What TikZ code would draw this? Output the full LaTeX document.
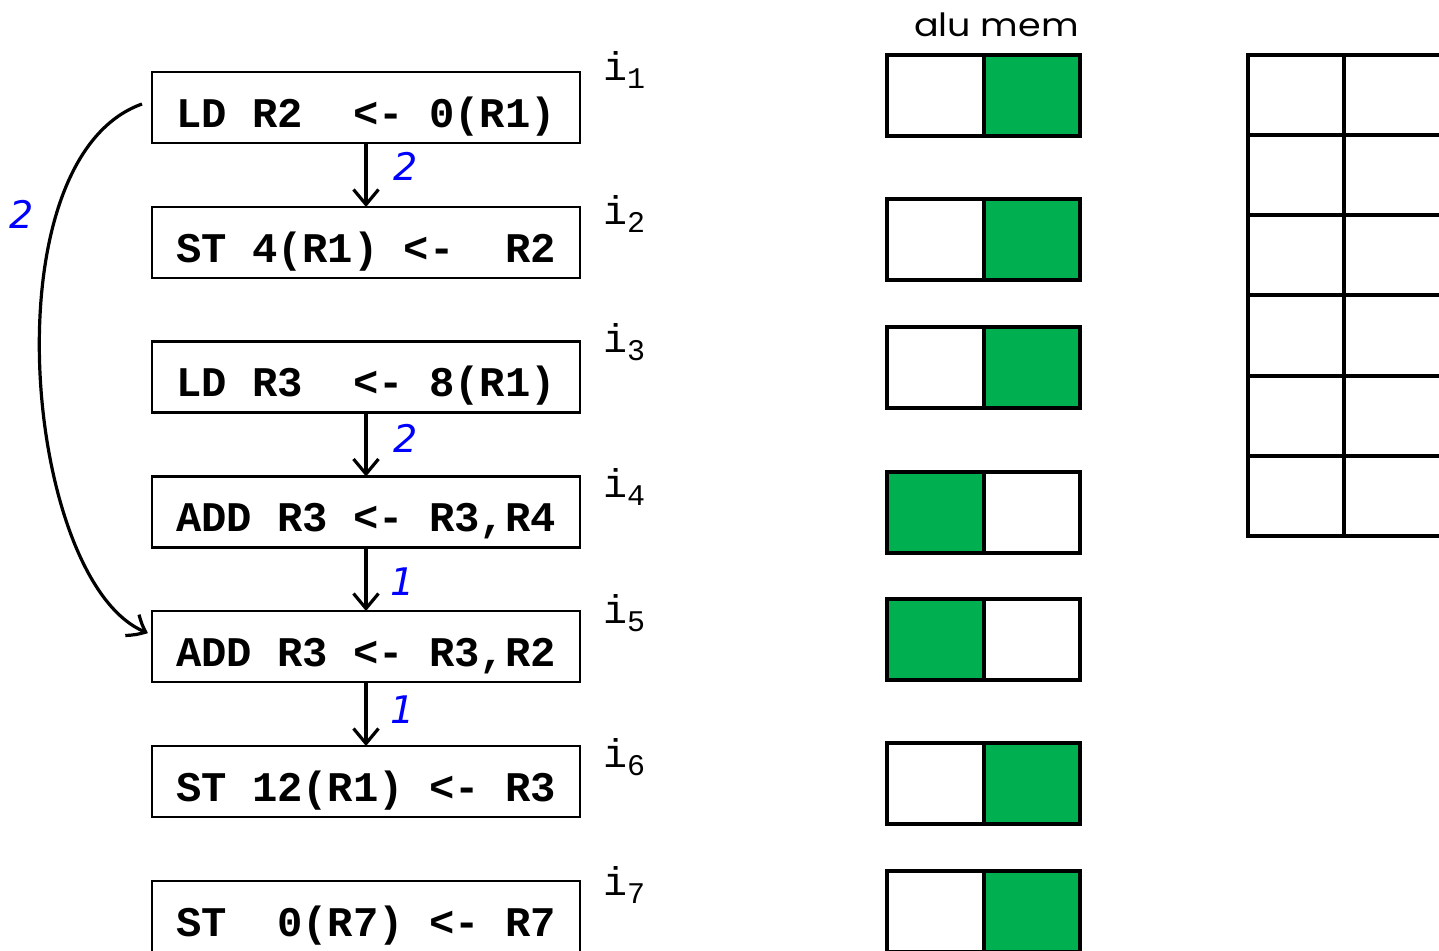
\documentclass[tikz,border=0pt]{standalone}
\usepackage{fontspec}
\setmainfont{Liberation Sans}
\newfontfamily\codefont{Liberation Mono}
\newfontfamily\gothfont{Poppins}
\newfontfamily\numfont{DejaVu Sans}
\usetikzlibrary{arrows.meta,bending,calc}
\definecolor{pptgreen}{RGB}{0,176,80}
\definecolor{numblue}{RGB}{0,0,255}
\begin{document}
\begin{tikzpicture}[x=1pt,y=-1pt,
  instr/.style={draw=black, line width=2.5pt, minimum width=428pt, minimum height=71pt,
    inner sep=0pt, outer sep=0pt, font=\codefont\bfseries\fontsize{42.2}{50}\selectfont,
    text height=41pt, text depth=2pt},
  ilabel/.style={anchor=base west, inner sep=0pt, font=\codefont\fontsize{40}{40}\selectfont},
  lat/.style={text=numblue, inner sep=0pt, font=\numfont\itshape\fontsize{38}{38}\selectfont},
  conn/.style={line width=3.2pt, -{Straight Barb[length=15pt, width=25pt, line width=3.2pt, bend]}},
  unitbox/.style={line width=4pt},
]
\useasboundingbox (0,0) rectangle (1439,950);

% instruction nodes
\node[instr] (a1) at (366,107.5) {LD~R2~~<-~0(R1)};
\node[instr] (a2) at (366,242.5) {ST~4(R1)~<-~~R2};
\node[instr] (a3) at (366,377)   {LD~R3~~<-~8(R1)};
\node[instr] (a4) at (366,512)   {ADD~R3~<-~R3,R4};
\node[instr] (a5) at (366,646.5) {ADD~R3~<-~R3,R2};
\node[instr] (a6) at (366,781.5) {ST~12(R1)~<-~R3};
\node[instr] (a7) at (366,916.5) {ST~~0(R7)~<-~R7};

% instruction labels
\newcommand{\isub}[1]{i\raisebox{-8pt}{\fontsize{30}{30}\selectfont #1}}
\node[ilabel] (l1) at (603,80)  {\isub{1}};
\node[ilabel] (l2) at (603,224) {\isub{2}};
\node[ilabel] (l3) at (603,352) {\isub{3}};
\node[ilabel] (l4) at (603,497) {\isub{4}};
\node[ilabel] (l5) at (603,623) {\isub{5}};
\node[ilabel] (l6) at (603,767) {\isub{6}};
\node[ilabel] (l7) at (603,895) {\isub{7}};

% dependence arrows
\draw[conn] (a1.south) -- (a2.north);
\draw[conn] (a3.south) -- (a4.north);
\draw[conn] (a4.south) -- (a5.north);
\draw[conn] (a5.south) -- (a6.north);
\coordinate (cs) at ($(a1.west)+(-10,-3.5)$);
\coordinate (ce) at ($(a5.west)+(-4,-13.5)$);
\draw[conn] (cs) .. controls (-15,160) and (25,590) .. (ce);

% latencies
\node[lat] (n1) at (406,166) {2};
\node[lat] (n2) at (22,214)  {2};
\node[lat] (n3) at (406,438) {2};
\node[lat] (n4) at (403,582) {1};
\node[lat] (n5) at (403,710) {1};

% alu / mem header
\node[anchor=base west, inner sep=0pt, font=\gothfont\fontsize{32}{32}\selectfont] (hdr) at (914,37) {\scalebox{1.14}[1]{alu mem}};

% alu / mem usage
\foreach \t/\gx in {55/984,199/984,327/984,472/887,599/887,743/984,871/984} {
  \fill[pptgreen] (\gx,\t) rectangle (\gx+96.5,\t+81);
  \draw[unitbox] (887,\t) rectangle (1080,\t+81);
  \draw[unitbox] (984,\t) -- (984,\t+81);
}

% reservation table
\foreach \y in {55,135,215,295,375.5,456,536} {
  \draw[unitbox] (1246,\y) -- (1450,\y);
}
\draw[unitbox] (1248,53) -- (1248,538);
\draw[unitbox] (1344,53) -- (1344,538);
\end{tikzpicture}
\end{document}
